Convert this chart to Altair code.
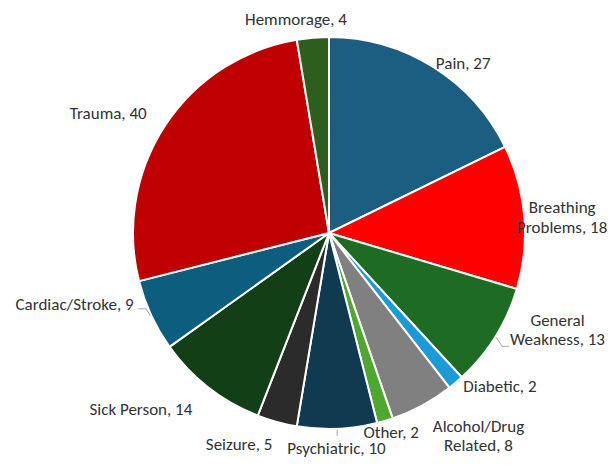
import altair as alt
import pandas as pd

CATEGORIES = ["Pain", "Breathing Problems", "General Weakness", "Diabetic",
              "Alcohol/Drug Related", "Other", "Psychiatric", "Seizure",
              "Sick Person", "Cardiac/Stroke", "Trauma", "Hemmorage"]
VALUES = [27, 18, 13, 2, 8, 2, 10, 5, 14, 9, 40, 4]
COLORS = ["#1B5E82", "#FF0000", "#1E6B24", "#1A9AD6", "#808080", "#4EA72E",
          "#0F3A50", "#2B2B2B", "#133F17", "#0D5E7E", "#C00000", "#2E5E1E"]
WRAPPED = {"Breathing Problems", "General Weakness", "Alcohol/Drug Related"}

labels = [(c.replace(" ", "\n", 1) if c in WRAPPED else c) + f", {v}"
          for c, v in zip(CATEGORIES, VALUES)]
df = pd.DataFrame({"cat": CATEGORIES, "value": VALUES,
                   "idx": list(range(len(CATEGORIES))), "label": labels})

CX, CY, R = 321, 225, 196
FONT = "Carlito, Lato, sans-serif"
FS = 17
TXT = "#333333"

base = alt.Chart(df)

pie = base.mark_arc(radius=R, stroke="white", strokeWidth=2).encode(
    theta=alt.Theta("value:Q", stack=True),
    color=alt.Color("cat:N", scale=alt.Scale(domain=CATEGORIES, range=COLORS), legend=None),
    order=alt.Order("idx:Q"),
    x=alt.value(CX), y=alt.value(CY),
)

ang = (base
       .transform_window(cum="sum(value)", sort=[alt.SortField("idx")])
       .transform_joinaggregate(total="sum(value)")
       .transform_calculate(ang="2*PI*(datum.cum - datum.value/2)/datum.total"))

# label placement: radius along the slice's mid angle, then a small nudge
PLACE = {
    "Hemmorage": (212, -15.5, 3),
    "Pain": (210, 23, 14),
    "Breathing Problems": (240, -6, 0),
    "General Weakness": (247, 19, -38),
    "Diabetic": (232, 21, -18),
    "Alcohol/Drug Related": (249, 31, -20),
    "Other": (218, 0, -4),
    "Psychiatric": (230, -2, -9),
    "Seizure": (233, -28, -8),
    "Sick Person": (259, -29, -22),
    "Cardiac/Stroke": (265, -14, -34.5),
    "Trauma": (247, -14, 21),
}

layers = [pie]
for cat, (r, dx, dy) in PLACE.items():
    layers.append(
        ang.transform_filter(alt.datum.cat == cat)
        .mark_text(radius=r, dx=dx, dy=dy, align="center", baseline="alphabetic",
                   font=FONT, fontSize=FS, color=TXT, lineBreak="\n", lineHeight=19.5)
        .encode(theta=alt.Theta("ang:Q", scale=None, stack=False),
                text="label:N", x=alt.value(CX), y=alt.value(CY))
    )

# leader lines: from slice edge to an elbow, then a horizontal tail
LEADERS = {
    "General Weakness": (6, 9, 7),
    "Cardiac/Stroke": (-4, -7, -8),
    "Psychiatric": (0, 6, 0),
}
for cat, (ex, ey, tail) in LEADERS.items():
    lead = (ang.transform_filter(alt.datum.cat == cat)
            .transform_calculate(
                x1=f"{CX} + {R + 1}*sin(datum.ang)",
                y1=f"{CY} - {R + 1}*cos(datum.ang)")
            .transform_calculate(x2=f"datum.x1 + {ex}", y2=f"datum.y1 + {ey}",
                                 x3=f"datum.x1 + {ex} + {tail}"))
    layers.append(lead.mark_rule(color="#A6A6A6", strokeWidth=1).encode(
        x=alt.X("x1:Q", scale=None), y=alt.Y("y1:Q", scale=None),
        x2="x2:Q", y2="y2:Q"))
    if tail:
        layers.append(lead.mark_rule(color="#A6A6A6", strokeWidth=1).encode(
            x=alt.X("x2:Q", scale=None), y=alt.Y("y2:Q", scale=None),
            x2="x3:Q", y2="y2:Q"))

chart = alt.layer(*layers).properties(
    width=599, height=450, padding=0, background="white",
    autosize=alt.AutoSizeParams(type="none"),
).configure_view(stroke=None)

chart.save("out.html", embed_options={"renderer": "svg", "actions": False})
